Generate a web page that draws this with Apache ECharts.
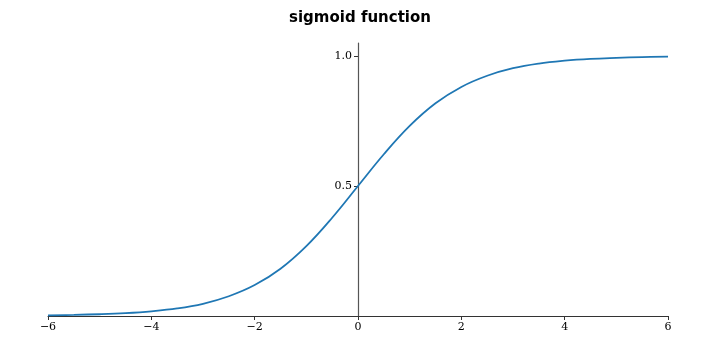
<!DOCTYPE html>
<html><head><meta charset="utf-8">
<script src="https://cdn.jsdelivr.net/npm/echarts@6/dist/echarts.min.js"></script>
<style>html,body{margin:0;padding:0;background:#fff}#c{width:720px;height:356px}</style>
</head><body><div id="c"></div>
<script>
const titleText = 'sigmoid function';
const xValues = [-6,-5.5,-5,-4.5,-4,-3.5,-3,-2.5,-2,-1.5,-1,-0.5,0,0.5,1,1.5,2,2.5,3,3.5,4,4.5,5,5.5,6];
const yValues = [0.0025,0.004,0.0067,0.011,0.018,0.029,0.047,0.076,0.119,0.182,0.269,0.378,0.5,0.622,0.731,0.818,0.881,0.924,0.953,0.971,0.982,0.989,0.993,0.996,0.9975];
const xTicks = [-6,-4,-2,0,2,4,6];
const yTicks = [0.5,1.0];
const yTickLabels = ['0.5','1.0'];

const chart = echarts.init(document.getElementById('c'));
const serif = 'DejaVu Serif';
chart.setOption({
  animation:false,
  title:{text:titleText,left:'center',top:6,textStyle:{fontFamily:'DejaVu Sans',fontWeight:'bold',fontSize:15,color:'#000'}},
  grid:{left:48,right:52,top:43,bottom:40},
  xAxis:{type:'value',min:-6,max:6,interval:2,
    axisLine:{onZero:false,lineStyle:{color:'#333',width:1}},
    axisTick:{length:4,lineStyle:{color:'#333'},customValues:xTicks},
    axisLabel:{customValues:xTicks,margin:6,fontFamily:serif,fontSize:11,color:'#000',
      formatter:v=>String(v).replace('-','\u2212')},
    splitLine:{show:false}},
  yAxis:{type:'value',min:0,max:1.05,position:'left',offset:-310,
    axisLine:{show:true,onZero:false,lineStyle:{color:'#555',width:1.2}},
    axisTick:{show:true,length:4,lineStyle:{color:'#333'},customValues:yTicks},
    axisLabel:{customValues:yTicks,margin:6,fontFamily:serif,fontSize:11,color:'#000',
      formatter:v=>yTickLabels[yTicks.indexOf(v)] ?? ''},
    splitLine:{show:false}},
  series:[{type:'line',data:xValues.map((x,i)=>[x,yValues[i]]),smooth:0.4,showSymbol:false,
    lineStyle:{color:'#1f77b4',width:1.8}}]
});
</script></body></html>
